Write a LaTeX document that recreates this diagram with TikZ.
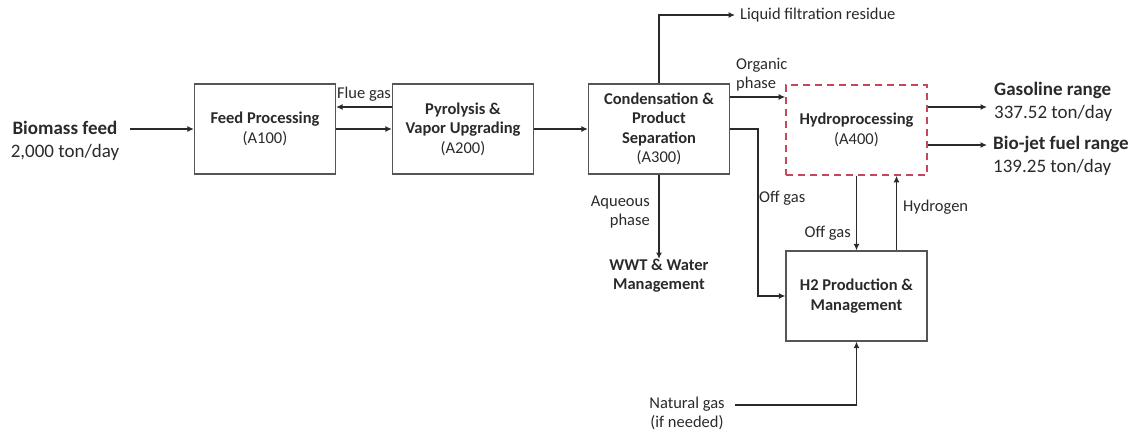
\documentclass[tikz,border=0pt]{standalone}
\usepackage{fontspec}
\setmainfont{Carlito}
\usetikzlibrary{arrows.meta}
\definecolor{txt}{HTML}{2A2A2A}
\definecolor{boxline}{HTML}{555555}
\definecolor{dashred}{HTML}{C8465A}
\tikzset{
  procbox/.style={draw=boxline, line width=1.2pt, minimum width=141pt, minimum height=90pt, align=center, font=\fontsize{16.5}{19.5}\selectfont, text=txt, inner sep=0pt},
  hydrobox/.style={procbox, draw=dashred, dash pattern=on 7pt off 5pt, line width=1.6pt},
  arr/.style={line width=1.6pt, draw=txt, -{Latex[length=6.5pt,width=6pt]}},
  lbl/.style={font=\fontsize{16.5}{19}\selectfont, text=txt, inner sep=0pt},
  big/.style={font=\fontsize{19}{22.5}\selectfont, text=txt, inner sep=0pt}
}
\begin{document}
\begin{tikzpicture}[x=1pt,y=-1pt]
\useasboundingbox (0,0) rectangle (1137,431);
% boxes
\node[procbox] (feed) at (265,129) {\textbf{Feed Processing}\\(A100)};
\node[procbox] (pyro) at (463,129) {\textbf{Pyrolysis \&}\\\textbf{Vapor Upgrading}\\(A200)};
\node[procbox] (cond) at (659,129) {\textbf{Condensation \&}\\\textbf{Product}\\\textbf{Separation}\\(A300)};
\node[hydrobox] (hydro) at (856.5,130) {\textbf{Hydroprocessing}\\(A400)};
\node[procbox] (h2) at (856.5,296) {\textbf{H2 Production \&}\\\textbf{Management}};
% text nodes
\node[big, align=center] (bio) at (65,141) {\textbf{Biomass feed}\\2,000 ton/day};
\coordinate (bioend) at (130,129);
\node[lbl, anchor=west] (lfr) at (740,15) {Liquid filtration residue};
\node[lbl, anchor=north west, align=left] (org) at (736,58) {Organic\\phase};
\node[lbl, anchor=west] (off1) at (759,198) {Off gas};
\node[lbl, anchor=east, align=right] (aq) at (650,212) {Aqueous\\phase};
\node[lbl, anchor=north, align=center] (wwt) at (659,259) {\textbf{WWT \& Water}\\\textbf{Management}};
\node[lbl, anchor=east] (off2) at (851,233) {Off gas};
\node[lbl, anchor=west] (hyd) at (903,207) {Hydrogen};
\node[lbl, align=center] (ng) at (687,413) {Natural gas\\(if needed)};
\coordinate (ngstart) at (735,405);
\node[lbl, anchor=south] (flue) at (364,102) {Flue gas};
\node[big, anchor=west, align=left] (gas) at (994,102) {\textbf{Gasoline range}\\337.52 ton/day};
\node[big, anchor=west, align=left] (jet) at (993,156) {\textbf{Bio-jet fuel range}\\139.25 ton/day};
% connectors
\draw[arr] (bioend) -- (feed.west);
\draw[arr] ([yshift=22pt]pyro.west) -- ([yshift=22pt]feed.east);
\draw[arr] (feed.east) -- (pyro.west);
\draw[arr] (pyro.east) -- (cond.west);
\draw[arr] (cond.north) |- ([xshift=-5pt]lfr.west);
\draw[arr] (cond.east |- 0,97) -- (hydro.west |- 0,97);
\draw[arr] (cond.east) -- ++(28,0) |- (h2.west);
\draw[arr] (cond.south) -- (wwt.north);
\draw[arr] (hydro.south) -- (h2.north);
\draw[arr] ([xshift=40pt]h2.north) -- ([xshift=40pt]hydro.south);
\draw[arr] (ngstart) -| (h2.south);
\draw[arr] (hydro.east |- 0,107) -- ([xshift=-7pt]gas.west |- 0,107);
\draw[arr] (hydro.east |- 0,145) -- ([xshift=-6pt]jet.west |- 0,145);
\end{tikzpicture}
\end{document}
